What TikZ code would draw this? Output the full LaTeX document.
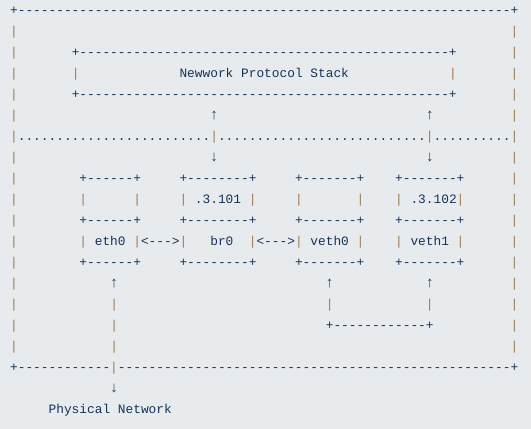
\documentclass[tikz,border=0pt]{standalone}
\usepackage{fontspec}
\setmonofont{Liberation Mono}
\newfontfamily\arrowfont{Liberation Mono}
\ExplSyntaxOn
\cs_new:Npn \rpt #1#2 { \prg_replicate:nn {#1} {#2} }
\ExplSyntaxOff
\definecolor{ink}{HTML}{15325A}
\definecolor{pipe}{HTML}{9C7A50}
\definecolor{bg}{HTML}{E8EBEE}
\newcommand\pipech{\textcolor{pipe}{|}}
\tikzset{txt/.style={anchor=base west, inner sep=0pt, outer sep=0pt,
  font=\ttfamily\fontsize{12.83}{15}\selectfont, text=ink},
  arr/.style={anchor=center, inner sep=0pt, outer sep=0pt,
  font=\arrowfont\fontsize{15}{16}\selectfont, text=ink!80!pipe}}
\newcommand\seg[4]{\node[txt] (#1) at ({10.15+7.7*#2},{-14-21*#3}) {#4};}
\newcommand\arw[4]{\node[arr] (#1) at ({14+7.7*#2},{-10.5-21*#3}) {#4};}
\begin{document}
\begin{tikzpicture}[x=1pt,y=1pt]
\fill[bg] (0,0) rectangle (531,-429);
\useasboundingbox (0,0) rectangle (531,-429);
% outer frame
\seg{top}{0}{0}{+\rpt{64}{-}+}
\foreach \r in {1,2,3,4,5,7,8,9,10,11,12,13,14,15,16}{
  \seg{L\r}{0}{\r}{\pipech}
  \seg{R\r}{65}{\r}{\pipech}
}
\seg{bot}{0}{17}{+\rpt{12}{-}\pipech\rpt{51}{-}+}
% protocol stack box
\seg{pst}{8}{2}{+\rpt{48}{-}+}
\seg{psl}{8}{3}{\pipech}
\seg{pstext}{22}{3}{Newwork Protocol Stack}
\seg{psr}{57}{3}{\pipech}
\seg{psb}{8}{4}{+\rpt{48}{-}+}
% arrows to/from stack
\arw{up1}{26}{5}{↑}
\arw{up2}{54}{5}{↑}
\seg{dots}{0}{6}{\pipech\rpt{25}{.}\pipech\rpt{27}{.}\pipech\rpt{10}{.}\pipech}
\arw{dn1}{26}{7}{↓}
\arw{dn2}{54}{7}{↓}
% device boxes
\foreach \r in {8,10,12}{
  \seg{ea\r}{9}{\r}{+\rpt{6}{-}+}
  \seg{ba\r}{22}{\r}{+\rpt{8}{-}+}
  \seg{va\r}{37}{\r}{+\rpt{7}{-}+}
  \seg{wa\r}{50}{\r}{+\rpt{7}{-}+}
}
\seg{e9l}{9}{9}{\pipech}
\seg{e9r}{16}{9}{\pipech}
\seg{b9}{22}{9}{\pipech{} .3.101 \pipech}
\seg{v9l}{37}{9}{\pipech}
\seg{v9r}{45}{9}{\pipech}
\seg{w9}{50}{9}{\pipech{} .3.102\pipech}
\seg{eth}{9}{11}{\pipech{} eth0 \pipech<--->\pipech}
\seg{br}{26}{11}{br0}
\seg{veth}{31}{11}{\pipech<--->\pipech{} veth0 \pipech}
\seg{veth1}{50}{11}{\pipech{} veth1 \pipech}
% lower links
\arw{u13a}{13}{13}{↑}
\arw{u13b}{41}{13}{↑}
\arw{u13c}{54}{13}{↑}
\seg{p14a}{13}{14}{\pipech}
\seg{p14b}{41}{14}{\pipech}
\seg{p14c}{54}{14}{\pipech}
\seg{p15a}{13}{15}{\pipech}
\seg{link}{41}{15}{+\rpt{12}{-}+}
\seg{p16a}{13}{16}{\pipech}
\arw{dn3}{13}{18}{↓}
\seg{phys}{5}{19}{Physical Network}
\end{tikzpicture}
\end{document}
